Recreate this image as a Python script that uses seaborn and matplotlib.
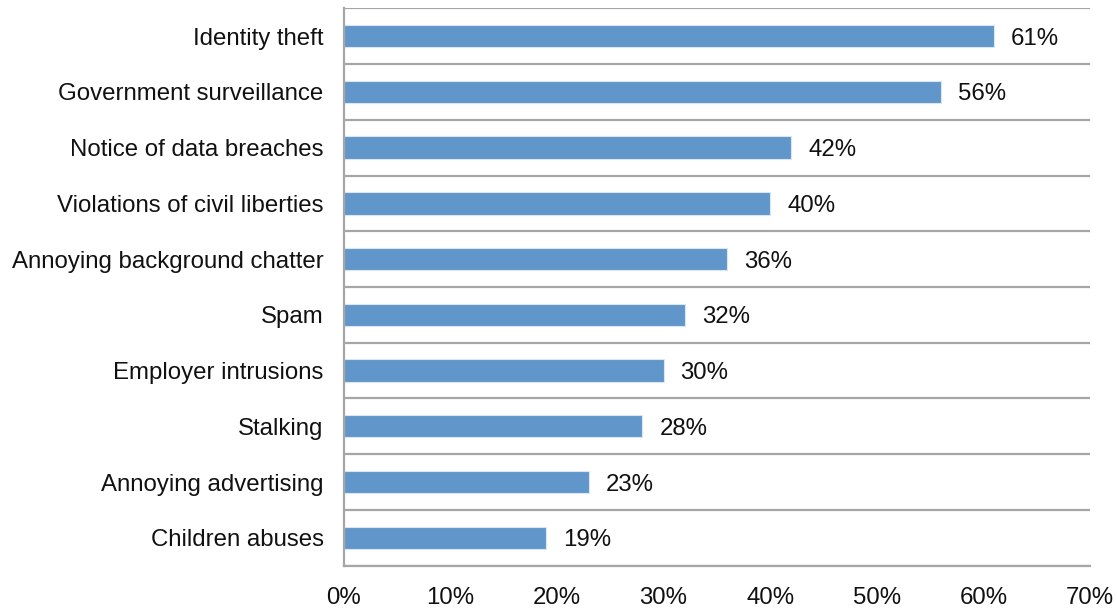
import seaborn as sns
import matplotlib.pyplot as plt
import pandas as pd
import numpy as np
from matplotlib.ticker import FixedLocator

# Data
categories = ['Identity theft', 'Government surveillance', 'Notice of data breaches',
              'Violations of civil liberties', 'Annoying background chatter', 'Spam',
              'Employer intrusions', 'Stalking', 'Annoying advertising', 'Children abuses']
values = [61, 56, 42, 40, 36, 32, 30, 28, 23, 19]
x_ticks = [0, 10, 20, 30, 40, 50, 60, 70]

df = pd.DataFrame({'category': categories, 'value': values})

sns.set_style('white')
plt.rcParams['font.family'] = ['Liberation Sans', 'DejaVu Sans']

fig = plt.figure(figsize=(11.17, 6.09), dpi=100)
ax = fig.add_axes([0.3077, 0.0711, 0.9758 - 0.3077, 0.9864 - 0.0711])

sns.barplot(data=df, x='value', y='category', color='#6096C9', width=0.4,
            saturation=1, edgecolor='#DCE6F2', linewidth=0.8, ax=ax)

grid_col = '#A6A6A6'
fs = 17.3
ax.set_xlim(0, 70)
ax.set_ylim(len(categories) - 0.5, -0.5)
ax.set_xticks(x_ticks)
ax.set_xticklabels([f'{t}%' for t in x_ticks])
ax.set_xlabel('')
ax.set_ylabel('')

# gridlines between categories
bounds = np.arange(len(categories) + 1) - 0.5
ax.yaxis.set_minor_locator(FixedLocator(bounds))
ax.grid(axis='y', which='minor', color=grid_col, linewidth=1.6)
ax.set_axisbelow(True)

ax.tick_params(axis='y', which='major', length=0, pad=14.5, labelsize=fs, labelcolor='#111111')
ax.tick_params(axis='y', which='minor', length=7, width=1.6, color=grid_col, direction='out')
ax.tick_params(axis='x', length=6, width=1.6, color=grid_col, direction='out',
               labelsize=fs, labelcolor='#111111', pad=9)

for s in ['top', 'right']:
    ax.spines[s].set_visible(False)
for s in ['left', 'bottom']:
    ax.spines[s].set_color(grid_col)
    ax.spines[s].set_linewidth(1.6)

for i, v in enumerate(values):
    ax.text(v + 1.6, i, f'{v}%', va='center_baseline', ha='left', fontsize=fs, color='#111111')

fig.savefig('out.png', dpi=100)
